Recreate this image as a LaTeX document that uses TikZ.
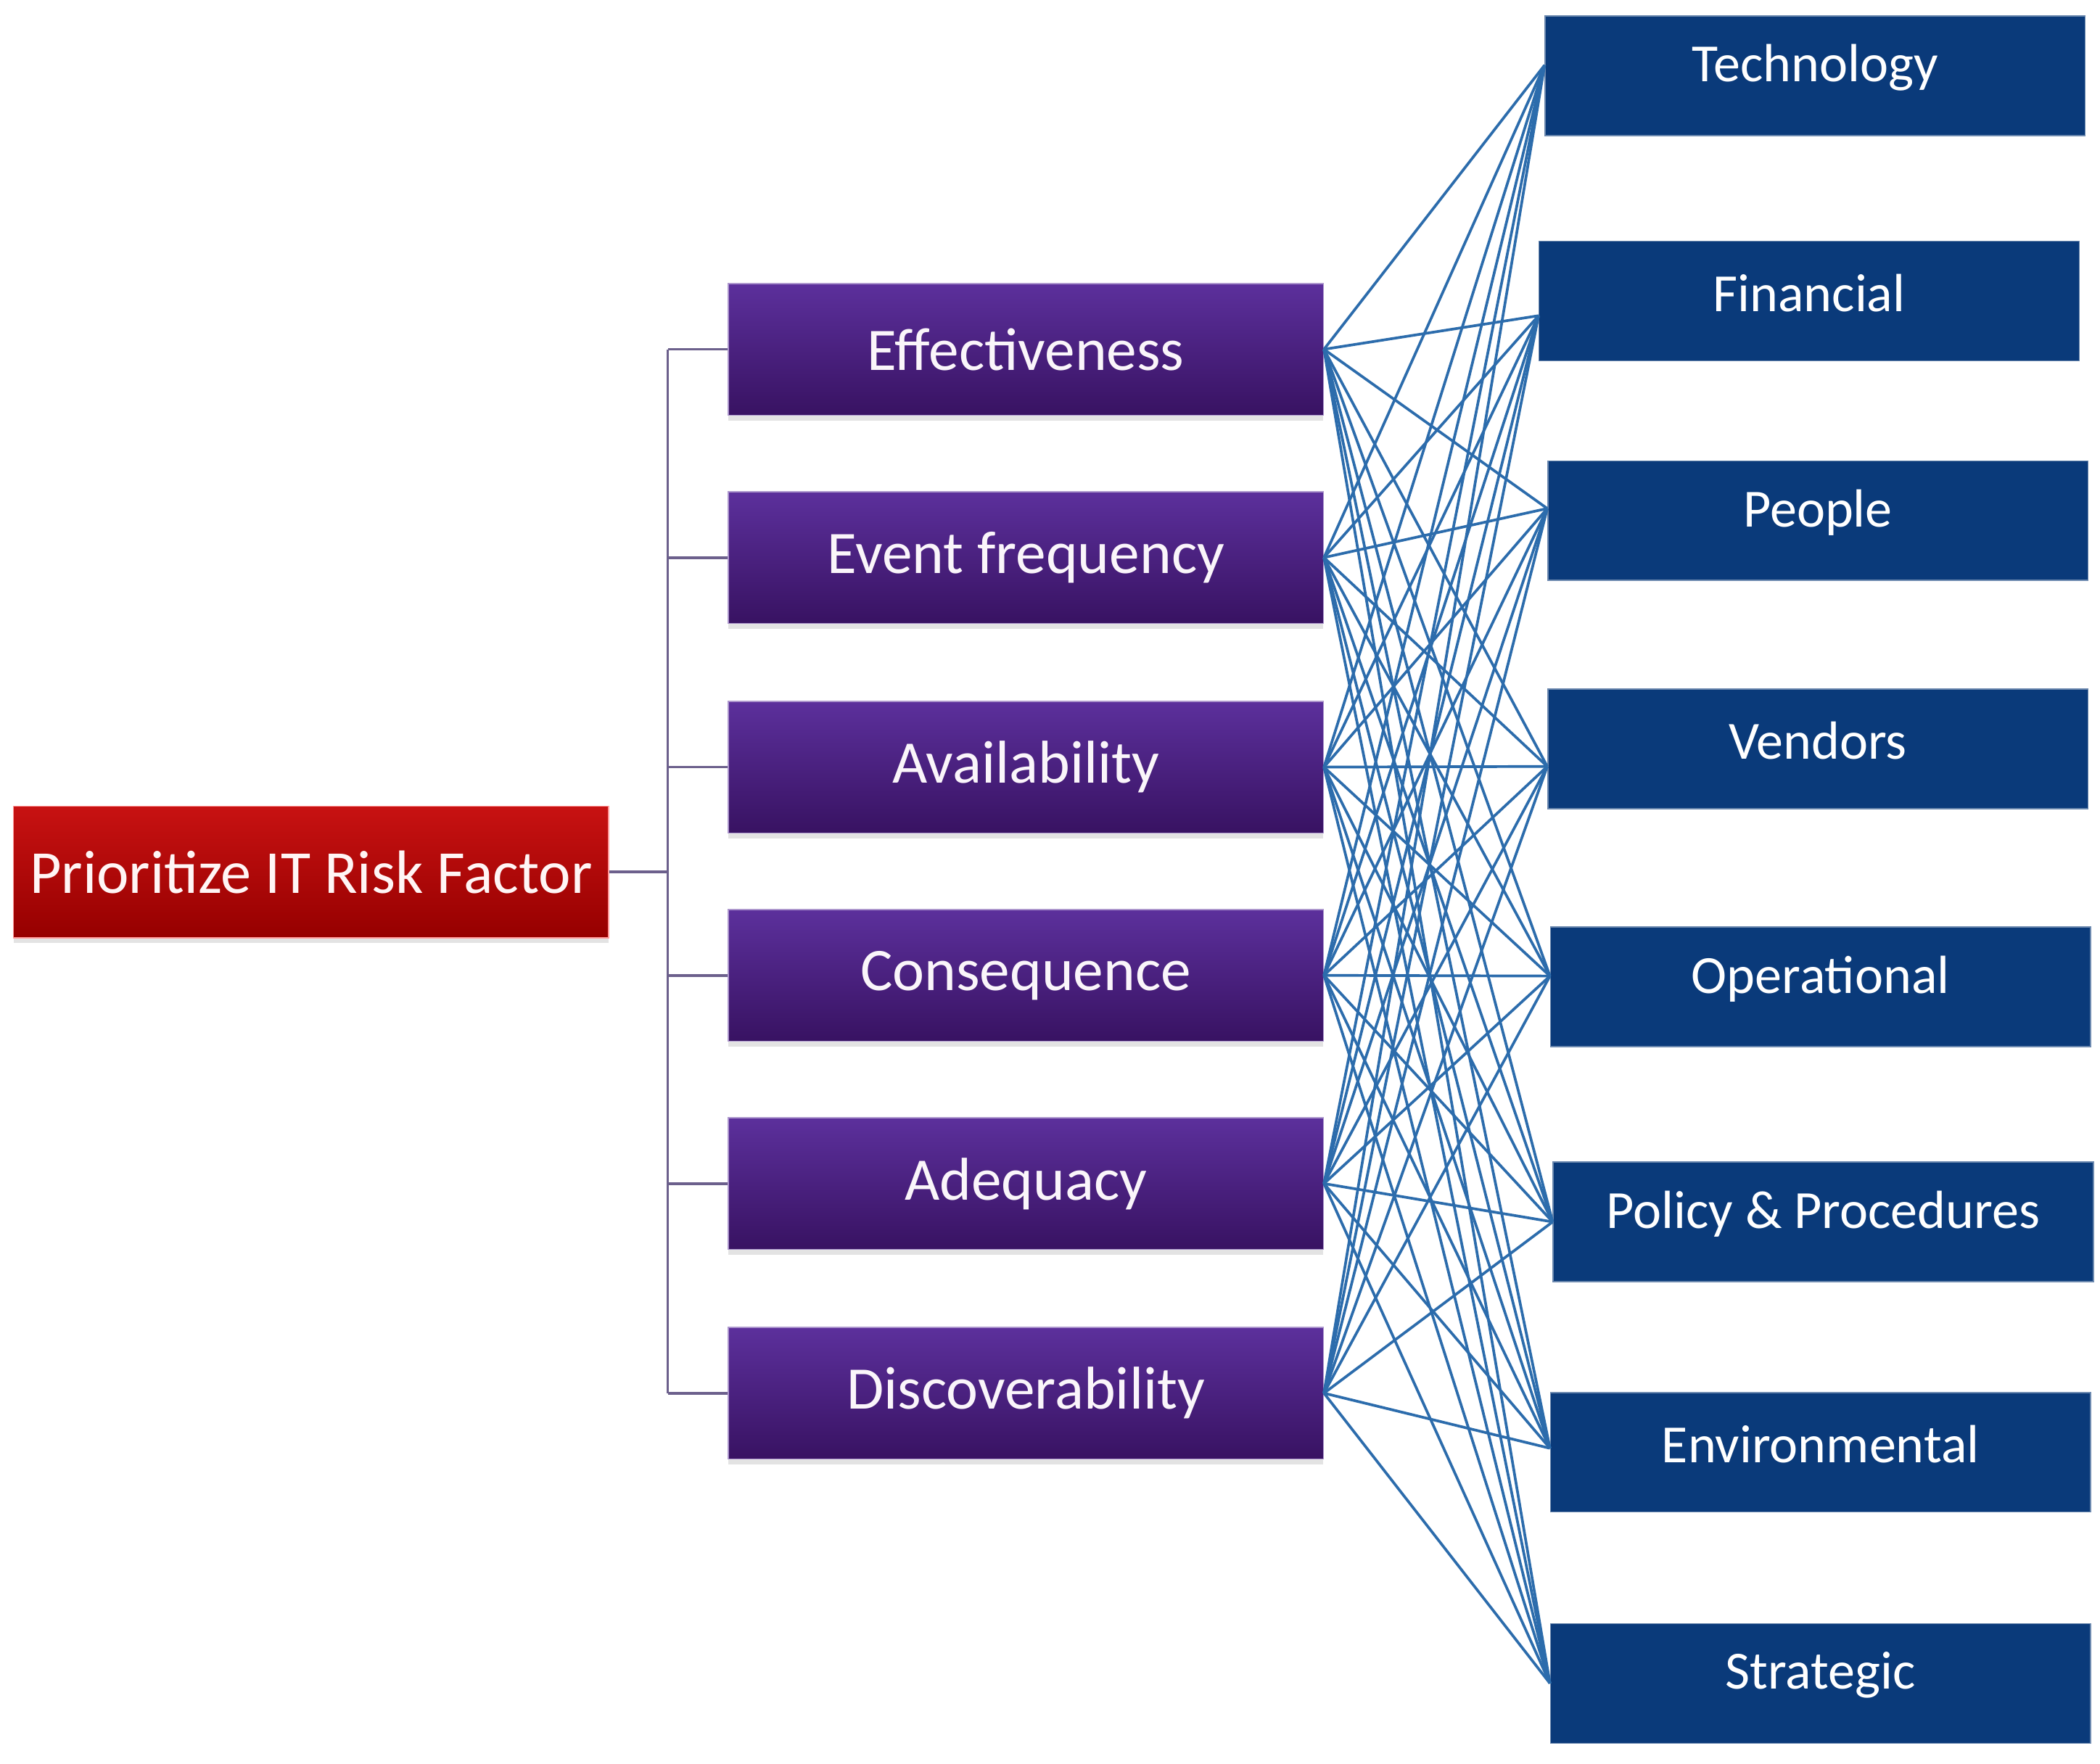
\documentclass[tikz,border=0pt]{standalone}
\usepackage{fontspec}
\setmainfont{Carlito}
\usetikzlibrary{shadows,calc}
\definecolor{redtop}{RGB}{200,18,18}
\definecolor{redbot}{RGB}{150,0,0}
\definecolor{purtop}{RGB}{92,48,156}
\definecolor{purbot}{RGB}{56,18,98}
\definecolor{navy}{RGB}{10,58,122}
\definecolor{netblue}{RGB}{44,108,172}
\definecolor{bracket}{RGB}{108,96,140}
\begin{document}
\begin{tikzpicture}[x=1pt,y=-1pt,
  shad/.style={drop shadow={shadow xshift=0pt,shadow yshift=-4pt,opacity=0.22,fill=black!50}},
  rootbox/.style={shad,top color=redtop,bottom color=redbot,draw=red!40!white,line width=0.8pt,
    minimum width=443pt,minimum height=98pt,inner sep=0pt,text=red!4!white,font=\fontsize{45.5}{52}\selectfont},
  critbox/.style={shad,top color=purtop,bottom color=purbot,draw=purtop!50!white,line width=0.8pt,
    minimum width=443pt,minimum height=98pt,inner sep=0pt,text=violet!4!white,font=\fontsize{45}{52}\selectfont},
  catbox/.style={fill=navy,draw=navy!60!white,line width=0.8pt,
    minimum width=402pt,minimum height=89pt,inner sep=0pt},
  cattext/.style={text=white,font=\fontsize{40}{46}\selectfont,inner sep=0pt},
  link/.style={draw=netblue,line width=2pt},
  tree/.style={draw=bracket,line width=2pt}]
\useasboundingbox (0,0) rectangle (1563,1313);
\fill[white] (0,0) rectangle (1563,1313);
% root
\node[rootbox] (root) at (231.5,649) {Prioritize IT Risk Factor};
% criteria
\node[critbox] (eff) at (763.5,260) {Effectiveness};
\node[critbox] (evf) at (763.5,415) {Event frequency};
\node[critbox] (ava) at (763.5,571) {Availability};
\node[critbox] (con) at (763.5,726) {Consequence};
\node[critbox] (ade) at (763.5,881) {Adequacy};
\node[critbox] (dis) at (763.5,1037) {Discoverability};
% categories
\node[catbox] (tec) at (1351,56.5) {};
\node[catbox] (fin) at (1346.5,224) {};
\node[catbox] (peo) at (1353,387.5) {};
\node[catbox] (ven) at (1353,557.5) {};
\node[catbox] (ope) at (1355,734.5) {};
\node[catbox] (pol) at (1357,909.5) {};
\node[catbox] (env) at (1355,1081) {};
\node[catbox] (str) at (1355,1253) {};
\node[cattext] (tect) at ([yshift=6pt]tec.center) {Technology};
\node[cattext] (fint) at ([yshift=6pt]fin.center) {Financial};
\node[cattext] (peot) at ([yshift=6pt]peo.center) {People};
\node[cattext] (vent) at ([yshift=6pt]ven.center) {Vendors};
\node[cattext] (opet) at ([yshift=6pt]ope.center) {Operational};
\node[cattext] (polt) at ([yshift=6pt]pol.center) {Policy \& Procedures};
\node[cattext] (envt) at ([yshift=6pt]env.center) {Environmental};
\node[cattext] (strt) at ([yshift=6pt]str.center) {Strategic};
% entry points on categories
\coordinate (tecin) at ([yshift=8pt]tec.west);
\coordinate (finin) at ([yshift=-11pt]fin.west);
\coordinate (peoin) at ([yshift=9pt]peo.west);
\coordinate (venin) at ([yshift=-13pt]ven.west);
\coordinate (opein) at ([yshift=8pt]ope.west);
\coordinate (polin) at (pol.west);
\coordinate (envin) at ([yshift=3pt]env.west);
\coordinate (strin) at (str.west);
% tree bracket
\coordinate (bus) at (497,649);
\draw[tree] (root.east) -- (bus);
\draw[tree] (eff.west -| bus) -- (dis.west -| bus);
\foreach \c in {eff,evf,ava,con,ade,dis}{
  \draw[tree] (\c.west -| bus) -- (\c.west);
}
% full network
\foreach \c in {eff,evf,ava,con,ade,dis}{
  \foreach \k in {tec,fin,peo,ven,ope,pol,env,str}{
    \draw[link] (\c.east) -- (\k in);
  }
}
\end{tikzpicture}
\end{document}
